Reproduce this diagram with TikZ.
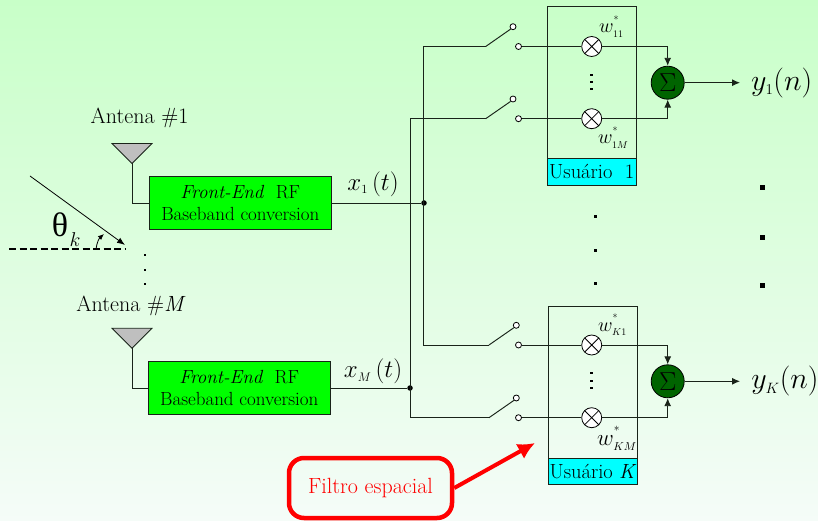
\RequirePackage{fix-cm}
\documentclass[tikz,border=0pt]{standalone}
\usepackage{fontspec}
\newfontfamily\grk{Liberation Serif}
\usetikzlibrary{arrows.meta,calc}
\definecolor{bgtop}{RGB}{200,255,200}
\definecolor{bgbot}{RGB}{245,252,248}
\definecolor{wire}{RGB}{25,35,25}
\definecolor{usercyan}{RGB}{0,255,255}
\definecolor{fegreen}{RGB}{0,255,0}
\definecolor{sumgreen}{RGB}{0,100,0}
\newcommand{\tsz}[1]{\fontsize{#1}{#1}\selectfont}
\newcommand{\wgt}[1]{$w^{\raisebox{5pt}{$\scriptscriptstyle *$}}_{\scriptscriptstyle #1}$}
\tikzset{
  wirel/.style={draw=wire,line width=0.95pt},
  arr/.style={wirel,-{Latex[length=8pt,width=7pt]}},
  febox/.style={draw=wire,fill=fegreen,line width=0.9pt,minimum width=182.5pt,minimum height=52.5pt,inner sep=0pt,align=center,font=\tsz{19}},
  ant/.style={draw=wire,fill=black!25,line width=0.8pt},
  term/.style={circle,draw=black,fill=white,line width=0.8pt,minimum size=6pt,inner sep=0pt},
  mult/.style={circle,draw=black,fill=white,line width=0.8pt,minimum size=20pt,inner sep=0pt,
    path picture={\draw[line width=0.8pt] (path picture bounding box.north west)--(path picture bounding box.south east)
      (path picture bounding box.north east)--(path picture bounding box.south west);}},
  sumn/.style={circle,draw=black,fill=sumgreen,line width=0.8pt,minimum size=33pt,inner sep=0pt,font=\tsz{26}},
  ubox/.style={draw=wire,line width=0.9pt,inner sep=0pt},
  ulab/.style={draw=wire,fill=usercyan,line width=0.9pt,inner sep=0pt,font=\tsz{20.5}},
  jun/.style={circle,fill=black,minimum size=5.5pt,inner sep=0pt},
  dotn/.style={fill=black,inner sep=0pt,minimum size=#1},
  wlab/.style={font=\tsz{20},inner sep=0pt,anchor=base west},
  txt/.style={font=\tsz{22},inner sep=0pt}
}
\begin{document}
\begin{tikzpicture}[x=1pt,y=-1pt]
\useasboundingbox (0,0) rectangle (818,521);
\shade[top color=bgtop,bottom color=bgbot] (0,0) rectangle (818,521);

% user boxes
\node[ubox,minimum width=89.5pt,minimum height=152pt] (u1) at (591.7,82.7) {};
\node[ulab,minimum width=89.5pt,minimum height=26.5pt] (u1l) at (591.7,171.9) {Usuário\ \ 1};
\node[ubox,minimum width=89.5pt,minimum height=152pt] (uk) at (593,382.3) {};
\node[ulab,minimum width=89.5pt,minimum height=26pt] (ukl) at (593,471.3) {Usuário \textit{K}};

% antennas
\coordinate (a1t) at (132,163.5);
\coordinate (amt) at (132,348.3);
\draw[ant] (112,143.5) -- (152,143.5) -- (a1t) -- cycle;
\draw[ant] (112,328.3) -- (152,328.3) -- (amt) -- cycle;
\node[txt] (a1l) at (139.5,118) {Antena \#1};
\node[txt] (aml) at (131,306) {Antena \#\textit{M}};

% front ends
\node[febox] (fe1) at (240.3,203) {\textit{Front-End}\ \ RF\\[3pt]Baseband conversion};
\node[febox] (fem) at (239.2,388) {\textit{Front-End}\ \ RF\\[3pt]Baseband conversion};
\draw[wirel] (a1t) |- (fe1.west);
\draw[wirel] (amt) |- (fem.west);

\node[inner sep=0pt,font=\tsz{25}] (x1) at (373,184) {$x_{\scriptscriptstyle 1}\,(t)$};
\node[inner sep=0pt,font=\tsz{25}] (xm) at (373,371) {$x_{\scriptscriptstyle M}\,(t)$};

% junctions
\node[jun] (j1) at (424,203) {};
\node[jun] (jm) at (410,388) {};
\draw[wirel] (fe1.east) -- (j1);
\draw[wirel] (fem.east) -- (jm);

% switch terminals
\foreach \n/\xa/\ya/\xb/\yb/\xk in {s1/513/26.7/518.5/46.5/485.7, s2/513/99/518.5/118.7/485.7, s3/516.3/325.3/518.5/345/489, s4/516.3/398/518.5/417.7/489}{
  \node[term] (\n a) at (\xa,\ya) {};
  \node[term] (\n b) at (\xb,\yb) {};
  \coordinate (\n k) at (\xk,\yb);
  \draw[wirel] (\n k) -- (\n a.225);
}
\coordinate (c1) at (423,46.5);
\coordinate (c2) at (410,118.7);
\coordinate (c3) at (423,345);
\coordinate (c4) at (410,417.7);
\draw[wirel] (s1k) -- (c1) -- (c3) -- (s3k);
\draw[wirel] (s2k) -- (c2) -- (c4) -- (s4k);

% multipliers
\node[mult] (m1) at (591.7,46.5) {};
\node[mult] (m2) at (591.7,118.7) {};
\node[mult] (m3) at (591.7,345) {};
\node[mult] (m4) at (591.7,417.7) {};
\draw[wirel] (s1b) -- (m1);
\draw[wirel] (s2b) -- (m2);
\draw[wirel] (s3b) -- (m3);
\draw[wirel] (s4b) -- (m4);

% summers
\node[sumn] (sg1) at (667.7,82.7) {$\Sigma$};
\node[sumn] (sgk) at (667.7,381.3) {$\Sigma$};
\draw[arr] (m1) -| (sg1);
\draw[arr] (m2) -| (sg1);
\draw[arr] (m3) -| (sgk);
\draw[arr] (m4) -| (sgk);

\coordinate (o1) at (740,82.7);
\coordinate (ok) at (740,381.3);
\draw[arr] (sg1) -- (o1);
\draw[arr] (sgk) -- (ok);
\node[inner sep=0pt,font=\tsz{30}] (y1) at (781.7,83) {$y_{\scriptscriptstyle 1}(n)$};
\node[inner sep=0pt,font=\tsz{30}] (yk) at (785,381) {$y_{\scriptscriptstyle K}(n)$};

% weights
\node[wlab] (w11) at (599,33) {\wgt{11}};
\node[wlab] (w1m) at (598,144) {\wgt{1M}};
\node[wlab] (wk1) at (598,331) {\wgt{K1}};
\node[wlab,font=\tsz{23}] (wkm) at (597,445) {\wgt{KM}};

% dots
\foreach \x/\y in {591.7/75,591.7/82,591.7/89,591.7/373,591.7/381,591.7/388,145/255,145/270,145/284}
  \node[dotn=2.8pt] at (\x,\y) {};
\foreach \x/\y in {595/217,595/250,595/283}
  \node[dotn=3pt] at (\x,\y) {};
\foreach \x/\y in {762/188,762/237,762/285}
  \node[dotn=5pt] at (\x,\y) {};

% incidence
\coordinate (ra) at (30,176);
\coordinate (rb) at (125,245);
\coordinate (da) at (9,249);
\coordinate (db) at (125,249);
\coordinate (aa) at (96,249);
\coordinate (ab) at (104,234);
\draw[black,line width=0.8pt,-{Latex[length=8pt,width=6pt]}] (ra) -- (rb);
\draw[black,line width=1.5pt,dash pattern=on 7pt off 3.5pt] (da) -- (db);
\draw[black,line width=0.8pt,-{Latex[length=6pt,width=5pt]}] (aa) to[bend left=20] (ab);
\node[inner sep=0pt,font=\tsz{34}\grk] (th) at (60,225) {θ};
\node[inner sep=0pt,font=\tsz{20}] (thk) at (75,240) {$k$};

% filter
\node[draw=red,line width=4.5pt,rounded corners=15pt,minimum width=163pt,minimum height=60pt,inner sep=0pt,text=red,font=\tsz{22}] (fl) at (370.5,488) {Filtro espacial};
\coordinate (fa) at (535,443);
\draw[red,line width=4pt,-{Latex[length=17pt,width=17pt]}] (fl.east) -- (fa);
\end{tikzpicture}
\end{document}
